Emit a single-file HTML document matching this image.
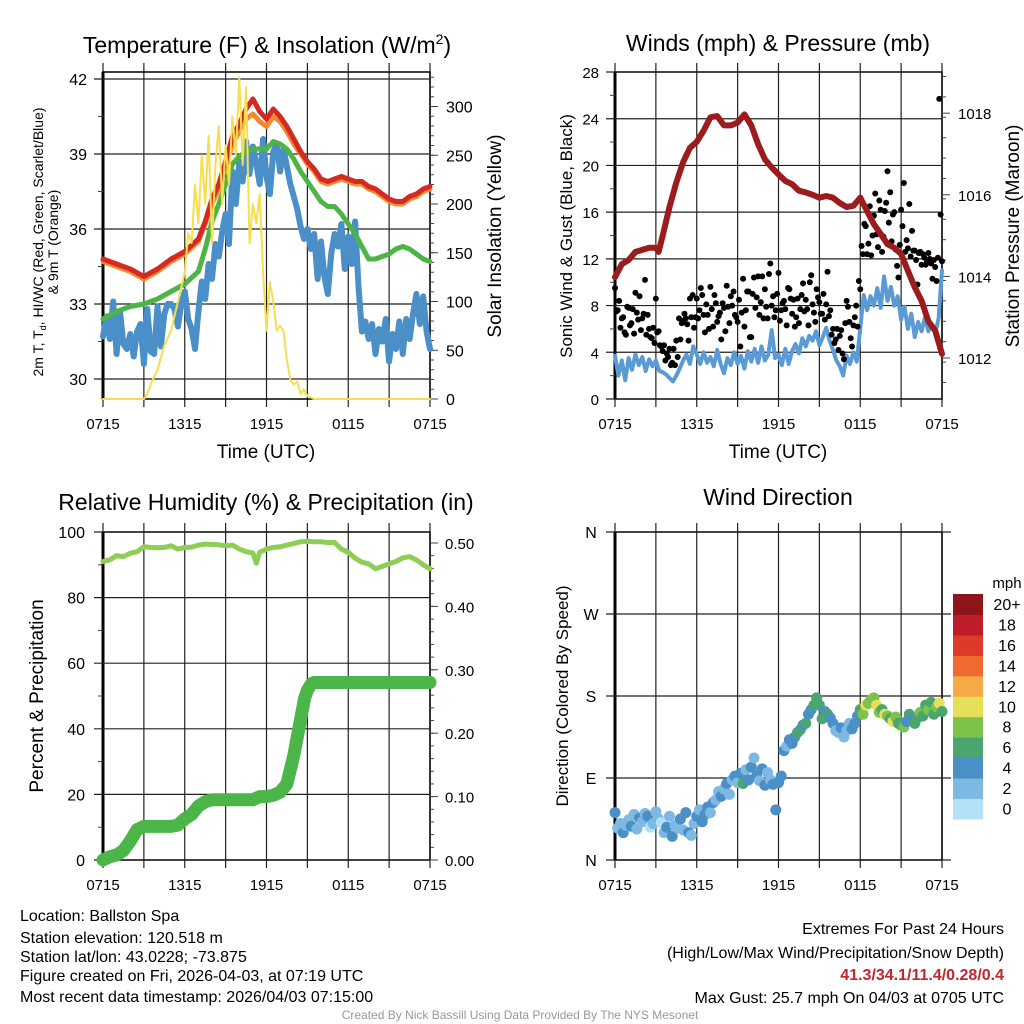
<!DOCTYPE html>
<html><head><meta charset="utf-8"><style>
html,body{margin:0;padding:0;background:#fff}
svg{display:block;font-family:"Liberation Sans",Arial,sans-serif}
</style></head><body>
<svg id="chart" width="1024" height="1024" viewBox="0 0 1024 1024" xmlns="http://www.w3.org/2000/svg">
<rect width="1024" height="1024" fill="#fff"/>
<g id="root"></g>
<!-- titles -->
<text x="267" y="53" font-size="23" text-anchor="middle">Temperature (F) &amp; Insolation (W/m<tspan dy="-9" font-size="14">2</tspan><tspan dy="9">)</tspan></text>
<text x="778" y="51" font-size="23" text-anchor="middle">Winds (mph) &amp; Pressure (mb)</text>
<text x="266" y="510" font-size="23" text-anchor="middle">Relative Humidity (%) &amp; Precipitation (in)</text>
<text x="778" y="505" font-size="23" text-anchor="middle">Wind Direction</text>
<!-- axis titles -->
<text x="266" y="458" font-size="19" text-anchor="middle">Time (UTC)</text>
<text x="778" y="458" font-size="19" text-anchor="middle">Time (UTC)</text>
<text transform="translate(43,242) rotate(-90)" font-size="14" text-anchor="middle">2m T, T<tspan dy="3" font-size="9">d</tspan><tspan dy="-3">, HI/WC (Red, Green, Scarlet/Blue)</tspan></text>
<text transform="translate(58,242) rotate(-90)" font-size="14" text-anchor="middle">&amp; 9m T (Orange)</text>
<text transform="translate(501,236) rotate(-90)" font-size="19" text-anchor="middle">Solar Insolation (Yellow)</text>
<text transform="translate(572,236) rotate(-90)" font-size="17" text-anchor="middle">Sonic Wind &amp; Gust (Blue, Black)</text>
<text transform="translate(1019,236) rotate(-90)" font-size="19" text-anchor="middle">Station Pressure (Maroon)</text>
<text transform="translate(43,696) rotate(-90)" font-size="19" text-anchor="middle">Percent &amp; Precipitation</text>
<text transform="translate(568,696) rotate(-90)" font-size="17" text-anchor="middle">Direction (Colored By Speed)</text>
<!-- footer -->
<g font-size="16">
<text x="20" y="921">Location: Ballston Spa</text>
<text x="20" y="943">Station elevation: 120.518 m</text>
<text x="20" y="962">Station lat/lon: 43.0228; -73.875</text>
<text x="20" y="981">Figure created on Fri, 2026-04-03, at 07:19 UTC</text>
<text x="20" y="1002">Most recent data timestamp: 2026/04/03 07:15:00</text>
</g>
<g font-size="16" text-anchor="end">
<text x="1004" y="934">Extremes For Past 24 Hours</text>
<text x="1004" y="958">(High/Low/Max Wind/Precipitation/Snow Depth)</text>
<text x="1004" y="980" fill="#c1272d" font-weight="bold">41.3/34.1/11.4/0.28/0.4</text>
<text x="1004" y="1003">Max Gust: 25.7 mph On 04/03 at 0705 UTC</text>
</g>
<text x="520" y="1019" font-size="12" fill="#999" text-anchor="middle">Created By Nick Bassill Using Data Provided By The NYS Mesonet</text>
</svg>
<script>
// ---------- data ----------
const tempHours = [0,1,2,3,4,5,6,7,7.5,8,8.5,9,9.5,10,10.5,11,11.5,12,12.5,13,13.5,14,14.5,15,15.5,16,16.5,17,17.5,18,18.5,19,19.5,20,20.5,21,21.5,22,22.5,23,23.5,24];
const tempRed = [34.8,34.6,34.4,34.1,34.4,34.8,35.1,35.6,36.3,37.2,37.8,38.7,39.7,40.2,40.8,41.2,40.7,40.4,40.8,40.5,40.1,39.6,39.1,38.7,38.4,38.0,37.9,38.0,38.1,38.0,37.9,37.9,37.7,37.6,37.4,37.2,37.1,37.1,37.3,37.4,37.6,37.7];
const tempOrange = [34.7,34.5,34.3,34.0,34.3,34.7,35.0,35.5,36.2,37.0,37.6,38.5,39.4,39.9,40.4,40.6,40.3,40.1,40.5,40.3,39.9,39.4,39.0,38.6,38.3,37.9,37.8,37.9,38.0,37.9,37.8,37.8,37.6,37.5,37.3,37.1,37.0,37.0,37.2,37.3,37.5,37.6];
const dewGreen = [32.4,32.7,32.9,33.0,33.2,33.5,33.8,34.3,35.2,36.3,37.0,37.8,38.6,38.9,39.1,39.2,39.2,39.2,39.5,39.4,39.2,38.8,38.3,37.9,37.5,37.1,36.9,36.9,36.6,36.2,35.8,35.3,34.8,34.8,34.9,35.0,35.2,35.3,35.2,35.0,34.8,34.7];
const windChill = [31.7,32.5,31.6,33.1,31.0,32.7,31.4,31.2,31.8,30.9,31.9,32.2,30.6,32.8,31.1,31.0,32.9,31.3,32.6,33.0,33.0,32.8,32.1,33.0,33.5,32.4,32.0,31.2,32.7,33.9,33.2,34.6,34.0,35.4,34.9,35.9,36.6,35.4,38.3,37.0,38.7,37.9,39.5,38.2,39.3,38.6,37.8,39.6,38.1,37.4,39.1,39.4,38.3,39.2,38.5,37.8,37.3,36.8,36.1,35.6,36.0,35.2,35.8,34.0,35.5,34.1,33.4,35.0,35.8,35.3,36.2,34.4,35.7,34.6,36.3,33.7,31.9,32.3,31.6,32.2,31.0,32.0,31.5,32.4,30.7,31.8,31.2,32.3,31.0,32.4,31.6,32.6,33.4,32.2,33.3,31.9,31.2];
const solarHours = [0,3,3.25,3.5,4,4.5,5,5.5,6,6.25,6.5,6.75,7,7.25,7.5,7.75,8,8.25,8.5,8.75,9,9.25,9.5,9.75,10,10.25,10.5,10.75,11,11.25,11.5,11.75,12,12.25,12.5,12.75,13,13.25,13.5,13.75,14,14.25,14.5,14.75,15,15.5,24];
const solar = [0,0,5,15,30,55,70,100,130,170,160,220,180,250,200,270,160,240,280,200,260,220,290,250,330,240,320,160,200,180,210,130,70,120,100,70,75,70,40,20,15,18,5,10,3,0,0];
const presHours = [0,0.5,1,1.5,2,2.5,3,3.2,3.5,4,4.5,5,5.5,6,6.5,7,7.5,8,8.5,9,9.5,10,10.5,11,11.5,12,12.5,13,13.5,14,14.5,15,15.5,16,16.5,17,17.5,18,18.5,19,19.5,20,20.5,21,21.5,22,22.5,23,23.5,24];
const pressure = [1013.98,1014.3,1014.4,1014.6,1014.65,1014.7,1014.7,1014.6,1015.0,1015.7,1016.3,1016.8,1017.15,1017.3,1017.57,1017.9,1017.93,1017.7,1017.7,1017.77,1017.97,1017.7,1017.24,1016.87,1016.67,1016.5,1016.34,1016.26,1016.1,1016.06,1016.0,1015.93,1015.97,1015.93,1015.8,1015.7,1015.73,1015.93,1015.6,1015.28,1015.04,1014.79,1014.7,1014.55,1014.14,1013.73,1013.4,1012.9,1012.67,1012.1];
const sonicWind = [3.7,2.0,3.3,1.6,3.5,2.5,3.8,2.9,3.6,2.4,3.4,2.8,3.3,2.4,2.3,2.1,1.8,1.5,2.0,2.6,3.3,3.8,3.0,4.5,3.8,3.0,4.0,3.1,3.6,2.8,4.2,3.0,2.2,3.5,2.9,4.0,3.0,3.7,2.6,4.1,3.2,4.3,3.1,4.5,3.3,3.8,5.9,3.5,3.8,2.9,4.3,3.0,4.1,4.7,3.9,5.2,4.5,5.4,5.0,5.8,4.6,5.3,6.1,5.0,4.2,3.3,2.8,2.0,3.7,3.0,4.0,3.2,6.1,8.9,7.6,8.8,8.0,9.5,7.8,10.5,8.4,9.6,8.0,8.8,6.8,7.9,6.0,7.3,5.3,6.6,5.8,7.0,5.8,6.4,5.6,6.9,11.0];
const gustA = [9.5,7.6,6.1,7.0,5.5,7.8,6.5,5.6,7.4,8.8,6.9,10.2,7.2,5.3,6.1,8.6,5.8,4.5,4.6,3.9,4.3,3.1,2.9,3.6,5.1,6.7,6.9,5.0,7.0,6.1,8.6,7.6,8.9,5.7,7.2,9.6,6.2,8.2,7.1,5.1,7.8,9.7,6.5,8.0,7.2,6.6,4.5,10.3,7.6,9.2,5.3,10.4,8.7,7.2,10.5,9.4,6.9,11.6,8.8,7.6,10.8,7.6,8.4,6.3,9.4,7.3,6.2,8.6,7.7,9.9,8.5,6.3,10.6,7.4,9.4,8.3,7.3,6.8,10.9,7.6,6.0,5.1,4.2,5.9,3.4,8.4,6.6,4.5,7.0,6.2,9.4,12.4,14.8,13.3,12.3,15.7,14.1,17.0,12.6,16.1,19.5,17.7,15.8,12.8,10.4,16.2,18.5,13.6,16.7,14.4,12.7,9.8,12.6,12.4,11.5,12.5,11.6,11.9,10.1,25.7,11.8];
const gustB = [7.5,8.4,6.9,5.7,7.9,6.3,7.7,9.1,6.8,5.9,7.3,5.5,6.0,5.2,4.8,5.7,4.6,4.1,3.3,3.6,2.9,4.3,5.0,6.9,6.5,7.3,6.4,8.6,8.9,7.0,6.9,9.5,7.2,8.1,6.0,7.7,8.9,6.6,7.4,8.2,5.8,7.9,8.8,9.2,7.0,8.5,7.4,6.2,9.2,5.3,9.0,7.8,10.5,8.3,6.9,7.9,10.7,8.0,7.0,9.0,6.7,8.2,7.7,9.5,8.6,8.5,7.0,6.5,8.9,7.5,7.7,10.0,8.1,6.6,8.7,7.3,9.0,8.1,7.1,5.5,4.8,6.0,5.4,3.9,6.5,7.9,5.2,6.3,8.0,10.1,13.1,15.0,12.4,16.5,14.0,17.6,13.0,16.2,13.9,16.8,15.1,13.5,16.0,11.4,13.2,14.8,12.6,12.9,12.2,12.7,11.9,12.5,11.5,12.1,11.7,12.0,10.3,11.3,12.1,15.8];
const rhHours = [0,0.5,1,1.5,2,2.5,3,3.5,4,4.5,5,5.5,6,6.5,7,7.5,8,8.5,9,9.5,10,10.5,11,11.25,11.5,12,12.5,13,13.5,14,14.5,15,15.5,16,16.5,17,17.5,18,18.5,19,19.5,20,20.5,21,21.5,22,22.5,23,23.5,24];
const rh = [91,91.5,92.8,92.5,93.5,94,95.5,95.3,95.2,95.3,95.8,94.8,95.3,95.4,96,96.3,96.2,96.1,95.8,96.0,94.8,94.0,93.6,90.5,93.8,94.8,95.3,95.5,96.0,96.5,97.0,97.2,97.0,97.0,96.8,96.8,94.8,93.8,92,90.8,90.3,88.8,89.5,90.3,91,92.1,92.5,91.5,90,88.8];
const precipHours = [0,0.5,1,1.5,2,2.5,3,4,5,5.5,6,6.5,7,7.5,8,9,10,11,11.5,12,12.5,13,13.5,14,14.5,14.8,15,15.3,15.5,24];
const precip = [0,0.005,0.008,0.015,0.03,0.048,0.053,0.053,0.053,0.055,0.065,0.072,0.085,0.092,0.095,0.095,0.095,0.095,0.1,0.1,0.102,0.107,0.12,0.165,0.222,0.255,0.268,0.278,0.28,0.28];
const windDir = [52,35,40,30,38,44,37,50,34,46,42,51,48,36,40,53,45,41,30,36,48,26,38,35,45,33,52,30,27,40,48,55,42,50,58,52,63,66,75,70,78,84,72,88,92,85,95,84,99,88,102,112,93,87,100,82,96,88,83,55,85,92,120,125,132,128,135,140,143,148,150,160,165,170,178,170,155,163,160,156,150,142,140,145,135,142,150,144,150,158,165,160,170,172,176,178,170,162,165,160,158,155,152,157,150,148,146,152,160,155,150,156,162,158,170,165,173,160,168,172,163];
const windSpd = [4,2,3,4,2,3,4,2,3,4,2,3,4,1,2,3,2,1,3,4,3,4,2,3,4,2,4,4,3,2,4,3,4,5,4,3,4,2,3,4,3,4,2,3,4,3,4,6,2,4,4,2,4,3,5,4,3,2,4,5,5,4,4,3,5,5,4,6,7,4,6,5,4,7,6,7,6,5,7,4,4,3,2,4,3,3,2,4,5,4,7,8,10,8,9,8,10,9,7,11,9,7,10,8,6,7,9,5,6,4,6,7,8,6,7,8,6,7,8,10,7];
const xTickLabels = ["0715","1315","1915","0115","0715"];
const tempTicks = [30,33,36,39,42];
const solarTicks = [0,50,100,150,200,250,300];
const windTicks = [0,4,8,12,16,20,24,28];
const presTicks = [1012,1014,1016,1018];
const rhTicks = [0,20,40,60,80,100];
const precipTicks = ["0.00","0.10","0.20","0.30","0.40","0.50"];
const dirTicks = ["N","E","S","W","N"];
const speedLabels = ["0","2","4","6","8","10","12","14","16","18","20+"];
const speedColors = ["#b3e1f6","#7db9e3","#4a8fc6","#4aa56f","#7cc24b","#e6df58","#f5aa48","#ee6a2e","#dc3a2b","#bd1e27","#8e161a"];

// ---------- helpers ----------
const NS = "http://www.w3.org/2000/svg";
const root = document.getElementById('root');
function mk(tag, attrs, parent){
  const e = document.createElementNS(NS, tag);
  for (const k in attrs) e.setAttribute(k, attrs[k]);
  (parent||root).appendChild(e);
  return e;
}
const X0 = 103, X1 = 430, X0b = 615, X1b = 942;
function xs(x0,x1){ return h => x0 + h*(x1-x0)/24; }
const xL = xs(X0,X1), xR = xs(X0b,X1b);
const yTemp = t => 79 + (42 - t)*25;
const ySolar = w => 399 - w*0.975;
const yWind = m => 399 - m*(327/28);
const yPres = p => 358 - (p-1012)*40.8;
const yRh = r => 860 - r*3.28;
const yPrecip = p => 860 - p*634;
const yDir = d => 860 - d*(328/360);

function frame(x0,x1,yTop,yBot,name){
  const g = mk('g',{});
  
  
  for (let i=0;i<=8;i++){
    const x = x0 + i*(x1-x0)/8;
    const l = mk('line',{x1:x,x2:x,y1:yTop-9,y2:yBot+8,stroke:'#222','stroke-width':1.2},g);
    
    
  }
  for (let i=0;i<5;i++){
    const t = mk('text',{x:x0+i*(x1-x0)/4,y:yBot+30,'font-size':15,'text-anchor':'middle'},g);
    t.textContent = xTickLabels[i];
    
    
  }
  const b = mk('rect',{x:x0,y:yTop,width:x1-x0,height:yBot-yTop,fill:'none',stroke:'#000','stroke-width':1.5},g);
  
  
  mk('line',{x1:x0,x2:x0,y1:yTop,y2:yBot,stroke:'#000','stroke-width':3},g);
  return g;
}
function hline(y,xa,xb,g){
  const l = mk('line',{x1:xa,x2:xb,y1:y,y2:y,stroke:'#222','stroke-width':1.2},g);
  
  
}
function label(x,y,txt,anchor,g,name,size){
  const t = mk('text',{x:x,y:y,'font-size':size||15,'text-anchor':anchor},g);
  t.textContent = txt;
  
  
  return t;
}
function tick(x,y,len,g){ mk('line',{x1:x,x2:x+len,y1:y,y2:y,stroke:'#444','stroke-width':1},g); }
function linePath(hours, vals, xf, yf, color, w, name, parent){
  let d = '';
  hours.forEach((h,i)=>{ d += (i?'L':'M') + xf(h).toFixed(1) + ',' + yf(vals[i]).toFixed(1); });
  const p = mk('path',{d:d,fill:'none',stroke:color,'stroke-width':w,'stroke-linejoin':'round','stroke-linecap':'round'},parent);
  
  
  return p;
}
const qh = n => Array.from({length:n},(_,i)=>i*24/(n-1));

// ---------- panel 1: temperature ----------
{
  const g = frame(X0,X1,72,399,'temperature');
  tempTicks.forEach(t=>{ hline(yTemp(t),X0-9,X1,g); label(87,yTemp(t)+6,String(t),'end',g,'temperature-tick-label',16); });
  for (let t=28.5;t<42.5;t+=1.5){ if (yTemp(t)>72 && yTemp(t)<399 && (t%3)) tick(X0-5,yTemp(t),5,g); }
  solarTicks.forEach(w=>{ tick(X1,ySolar(w),8,g); label(446,ySolar(w)+6,String(w),'start',g,'solar-tick-label',16); });
  for (let w=0;w<=330;w+=10){ tick(X1,ySolar(w),4,g); }
  const s = mk('g',{});
  
  
  linePath(qh(windChill.length), windChill, xL, yTemp, '#4a8fc8', 6, 'windchill-line', s);
  linePath(tempHours, dewGreen, xL, yTemp, '#4db445', 5, 'dewpoint-line', s);
  linePath(tempHours, tempOrange, xL, yTemp, '#f08a30', 5, 'temp-9m-line', s);
  linePath(tempHours, tempRed, xL, yTemp, '#d42a24', 5, 'temp-2m-line', s);
  linePath(solarHours, solar, xL, ySolar, '#f6de4e', 2, 'insolation-line', s);
}
// ---------- panel 2: winds ----------
{
  const g = frame(X0b,X1b,72,399,'winds');
  windTicks.forEach(m=>{ hline(yWind(m),X0b-9,X1b,g); label(599,yWind(m)+6,String(m),'end',g,'wind-tick-label',15); });
  for (let m=2;m<28;m+=4) tick(X0b-5,yWind(m),5,g);
  presTicks.forEach(p=>{ tick(X1b,yPres(p),8,g); label(958,yPres(p)+6,String(p),'start',g,'pressure-tick-label',15); });
  for (let p=1011.4;p<=1019.1;p+=0.5){ const y=yPres(p); if(y>72&&y<399) tick(X1b,y,4,g); }
  const s = mk('g',{});
  
  
  linePath(qh(sonicWind.length), sonicWind, xR, yWind, '#5a9bd5', 4, 'sonic-wind-line', s);
  gustA.forEach((v,i)=>{
    const c = mk('circle',{cx:xR(i*0.2),cy:yWind(v),r:3,fill:'#000'},s);
    
    
  });
  gustB.forEach((v,i)=>{
    const c = mk('circle',{cx:xR(0.1+i*0.2),cy:yWind(v),r:3,fill:'#000'},s);
    
    
  });
  linePath(presHours, pressure, xR, yPres, '#9c1b1c', 6, 'pressure-line', s);
}
// ---------- panel 3: humidity ----------
{
  const g = frame(X0,X1,532,860,'humidity');
  rhTicks.forEach(r=>{ hline(yRh(r),X0-9,X1,g); label(85,yRh(r)+6,String(r),'end',g,'rh-tick-label',16); });
  for (let r=10;r<100;r+=20) tick(X0-5,yRh(r),5,g);
  precipTicks.forEach(p=>{ tick(X1,yPrecip(+p),8,g); label(445,yPrecip(+p)+6,p,'start',g,'precip-tick-label',15); });
  for (let p=0;p<=0.5;p+=0.02) tick(X1,yPrecip(p),4,g);
  const s = mk('g',{});
  
  
  linePath(rhHours, rh, xL, yRh, '#8fce55', 5, 'rh-line', s);
  linePath(precipHours, precip, xL, yPrecip, '#4bb548', 13, 'precip-line', s);
}
// ---------- panel 4: wind direction ----------
{
  const g = frame(X0b,X1b,532,860,'direction');
  dirTicks.forEach((d,i)=>{ hline(yDir(i*90),X0b-9,X1b+9,g); label(591,yDir(i*90)+6,d,'middle',g,'direction-tick-label',16); });
  const s = mk('g',{});
  
  
  windDir.forEach((d,i)=>{
    const bin = Math.min(10, Math.floor(windSpd[i]/2));
    const c = mk('circle',{cx:xR(i*0.2),cy:yDir(d),r:5.5,fill:speedColors[bin]},s);
    
    
  });
  const lg = mk('g',{});
  
  
  label(1007,588,'mph','middle',lg,'colorbar-title',15);
  const top=594, bh=20.45;
  speedColors.forEach((c,i)=>{
    const k = 10-i;
    const r = mk('rect',{x:953,y:top+k*bh,width:30,height:bh+0.5,fill:c},lg);
    
    
    label(1007,top+k*bh+16,speedLabels[i],'middle',lg,'colorbar-label',16);
  });
}
</script>
</body></html>
